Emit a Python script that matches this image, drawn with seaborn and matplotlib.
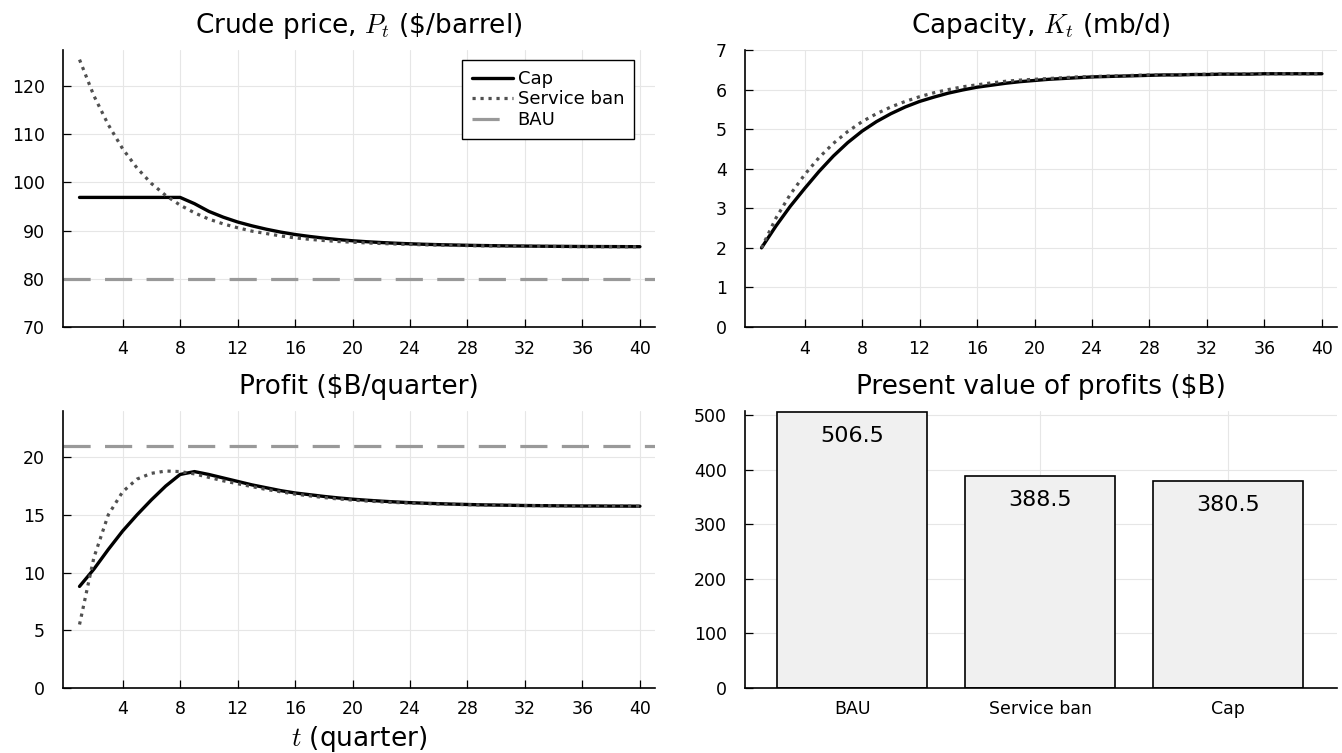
import numpy as np
import matplotlib
matplotlib.use("Agg")
import matplotlib.pyplot as plt
import seaborn as sns

# quarters 1..40
quarters = list(range(1, 41))

# crude price ($/barrel)
price_cap = [96.9, 96.9, 96.9, 96.9, 96.9, 96.9, 96.9, 96.9, 95.6, 94.0,
             92.8, 91.8, 91.0, 90.3, 89.7, 89.2, 88.8, 88.45, 88.15, 87.9,
             87.7, 87.53, 87.39, 87.27, 87.17, 87.09, 87.02, 86.96, 86.91, 86.87,
             86.83, 86.8, 86.77, 86.75, 86.73, 86.71, 86.7, 86.69, 86.68, 86.67]
price_ban = [125.5, 118.0, 112.0, 107.0, 103.0, 99.8, 97.3, 95.3, 93.7, 92.4,
             91.4, 90.6, 89.9, 89.4, 88.9, 88.5, 88.2, 87.95, 87.75, 87.6,
             87.45, 87.33, 87.23, 87.14, 87.06, 87.0, 86.94, 86.89, 86.85, 86.81,
             86.78, 86.75, 86.73, 86.71, 86.69, 86.68, 86.67, 86.66, 86.65, 86.64]
price_bau = 80.0

# capacity (mb/d)
cap_cap = [2.0, 2.55, 3.05, 3.5, 3.93, 4.32, 4.66, 4.95, 5.19, 5.39,
           5.56, 5.7, 5.81, 5.91, 5.99, 6.06, 6.11, 6.16, 6.2, 6.23,
           6.26, 6.28, 6.3, 6.32, 6.33, 6.34, 6.35, 6.36, 6.37, 6.37,
           6.38, 6.38, 6.39, 6.39, 6.39, 6.4, 6.4, 6.4, 6.4, 6.4]
cap_ban = [2.0, 2.75, 3.35, 3.85, 4.28, 4.64, 4.94, 5.19, 5.39, 5.56,
           5.7, 5.82, 5.92, 6.0, 6.07, 6.12, 6.17, 6.21, 6.24, 6.26,
           6.28, 6.3, 6.32, 6.33, 6.34, 6.35, 6.36, 6.37, 6.37, 6.38,
           6.38, 6.39, 6.39, 6.39, 6.4, 6.4, 6.4, 6.4, 6.4, 6.4]

# profit ($B/quarter)
profit_cap = [8.8, 10.3, 12.0, 13.6, 15.0, 16.3, 17.5, 18.5, 18.75, 18.5,
              18.2, 17.9, 17.6, 17.35, 17.1, 16.9, 16.75, 16.6, 16.47, 16.36,
              16.27, 16.19, 16.12, 16.06, 16.01, 15.97, 15.93, 15.9, 15.87, 15.85,
              15.83, 15.81, 15.8, 15.79, 15.78, 15.77, 15.77, 15.76, 15.76, 15.75]
profit_ban = [5.5, 11.3, 15.0, 17.0, 18.1, 18.6, 18.8, 18.75, 18.55, 18.25,
              17.95, 17.7, 17.45, 17.2, 17.0, 16.8, 16.65, 16.5, 16.38, 16.28,
              16.2, 16.13, 16.07, 16.02, 15.98, 15.94, 15.91, 15.88, 15.86, 15.84,
              15.82, 15.81, 15.8, 15.79, 15.78, 15.77, 15.77, 15.76, 15.76, 15.75]
profit_bau = 21.0

# present value of profits ($B)
scenarios = ["BAU", "Service ban", "Cap"]
pv_profits = [506.5, 388.5, 380.5]

sns.set_style("white")
plt.rcParams["font.family"] = ["DejaVu Sans"]
plt.rcParams["mathtext.fontset"] = "cm"
for k in ["text.color", "axes.labelcolor", "xtick.color", "ytick.color", "axes.titlecolor"]:
    plt.rcParams[k] = "black"

CAP_KW = dict(color="black", linewidth=2.4)
BAN_KW = dict(color="#505050", linewidth=2.3, linestyle=(0, (1.0, 1.5)))
BAU_KW = dict(color="#999999", linewidth=2.3, linestyle=(0, (8.5, 4.5)))

fig = plt.figure(figsize=(13.42, 7.53), dpi=100)
W, H = 1342, 753


def make_ax(left, top, right, bottom):
    return fig.add_axes([left / W, 1 - bottom / H, (right - left) / W, (bottom - top) / H])


ax1 = make_ax(63, 50, 655, 327)
ax2 = make_ax(745, 50, 1337, 327)
ax3 = make_ax(63, 411, 655, 688)
ax4 = make_ax(745, 411, 1337, 688)


def style(ax):
    ax.grid(True, color="#e6e6e6", linewidth=0.8)
    ax.set_axisbelow(True)
    for s in ["top", "right"]:
        ax.spines[s].set_visible(False)
    for s in ["left", "bottom"]:
        ax.spines[s].set_linewidth(1.2)
        ax.spines[s].set_color("black")
    ax.tick_params(direction="in", length=5.5, width=0.9, color="black",
                   labelcolor="black", labelsize=12.5, left=True, bottom=True)
    ax.tick_params(axis="x", pad=9)
    ax.tick_params(axis="y", pad=13)


TITLE_FS = 19
TITLE_PAD = 12.5

# crude price
sns.lineplot(x=quarters, y=price_cap, ax=ax1, label="Cap", **CAP_KW)
sns.lineplot(x=quarters, y=price_ban, ax=ax1, label="Service ban", **BAN_KW)
ax1.axhline(price_bau, label="BAU", **BAU_KW)
ax1.set_ylim(70, 127.5)
ax1.set_yticks(range(70, 121, 10))
ax1.set_title(r"Crude price, $P_t$ (\$/barrel)", fontsize=TITLE_FS, pad=TITLE_PAD)
leg = ax1.legend(loc="upper right", bbox_to_anchor=((634 - 63) / 592, 1 - 10 / 277),
                 borderaxespad=0, fontsize=13, frameon=True, fancybox=False,
                 edgecolor="black", framealpha=1, handlelength=2.3,
                 handletextpad=0.25, labelspacing=0.14, borderpad=0.55)
leg.get_frame().set_linewidth(1.0)

# capacity
sns.lineplot(x=quarters, y=cap_cap, ax=ax2, legend=False, **CAP_KW)
sns.lineplot(x=quarters, y=cap_ban, ax=ax2, legend=False, **BAN_KW)
ax2.set_ylim(0, 7)
ax2.set_yticks(range(0, 8))
ax2.set_title(r"Capacity, $K_t$ (mb/d)", fontsize=TITLE_FS, pad=TITLE_PAD)

# profit
sns.lineplot(x=quarters, y=profit_cap, ax=ax3, legend=False, **CAP_KW)
sns.lineplot(x=quarters, y=profit_ban, ax=ax3, legend=False, **BAN_KW)
ax3.axhline(profit_bau, **BAU_KW)
ax3.set_ylim(0, 24)
ax3.set_yticks(range(0, 21, 5))
ax3.set_title("Profit (\\$B/quarter)", fontsize=TITLE_FS, pad=TITLE_PAD)
ax3.set_xlabel(r"$t$ (quarter)", fontsize=TITLE_FS, labelpad=4)

for ax in (ax1, ax2, ax3):
    ax.set_xlim(-0.15, 41.05)
    ax.set_xticks(range(4, 41, 4))
    ax.set_ylabel("")
    style(ax)

# present value bars
sns.barplot(x=scenarios, y=pv_profits, ax=ax4, color="#f0f0f0", saturation=1,
            edgecolor="black", linewidth=1.2, width=0.8)
for i, v in enumerate(pv_profits):
    ax4.annotate(f"{v:.1f}", (i, v), xytext=(0, -17.5), textcoords="offset points",
                 ha="center", va="center", fontsize=16)
ax4.set_xlim(-0.57, 2.58)
ax4.set_ylim(0, 508)
ax4.set_yticks(range(0, 501, 100))
ax4.set_title("Present value of profits (\\$B)", fontsize=TITLE_FS, pad=TITLE_PAD)
ax4.set_ylabel("")
style(ax4)
ax4.tick_params(axis="x", length=0)

fig.savefig("out.png", dpi=100)
